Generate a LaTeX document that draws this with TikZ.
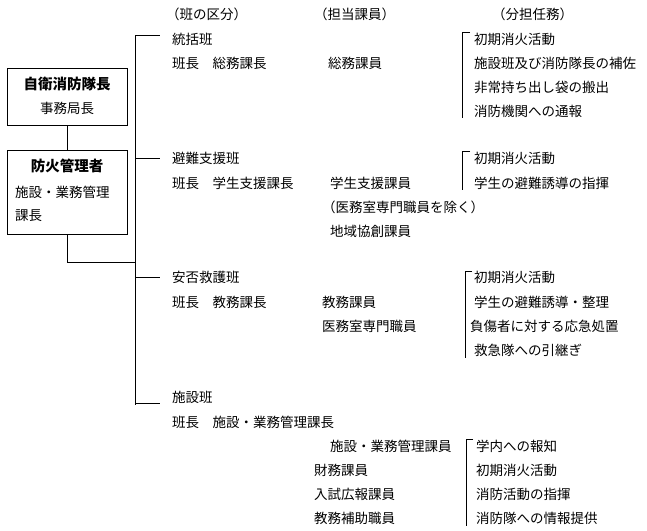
\documentclass[tikz,border=0pt]{standalone}
\usepackage{fontspec}
\setmainfont{Noto Sans CJK JP}
\begin{document}
\begin{tikzpicture}[x=1pt,y=-1pt,
  t/.style={anchor=west,inner sep=0pt,font=\fontsize{13.5}{15}\selectfont},
  tb/.style={anchor=center,inner sep=0pt,font=\fontsize{14.5}{16}\selectfont\bfseries},
  bx/.style={draw,line width=0.7pt,minimum width=120pt,inner sep=0pt},
  ln/.style={line width=0.7pt}]
\useasboundingbox (0,0) rectangle (647,530);
% boxes
\node[bx,minimum height=57pt] (b1) at (67,96.5) {};
\node[tb] at (67,84) {自衛消防隊長};
\node[t,anchor=center] at (67,108) {事務局長};
\node[bx,minimum height=84pt] (b2) at (67,192) {};
\node[tb] at (67,166) {防火管理者};
\node[t] at (15,192) {施設・業務管理};
\node[t] at (15,216) {課長};
\draw[ln] (b1.south) -- (b2.north);
\coordinate (j) at (135,262);
\draw[ln] (b2.south) |- (j);
% trunk
\coordinate (tt) at (135,35);
\coordinate (tb) at (135,405);
\draw[ln] (tt) -- (tb);
\foreach \y/\n in {35/a,158/b,277/c,403/d}{
  \coordinate (s\n) at (135,\y); \coordinate (e\n) at (160,\y);
  \draw[ln] (s\n) -- (e\n);}
% headers
\node[t] at (166,14) {（班の区分）};
\node[t] at (314,14) {（担当課員）};
\node[t] at (492,14) {（分担任務）};
% group 1
\node[t] at (172,39) {統括班};
\node[t] at (172,63) {班長　総務課長};
\node[t] at (328,63) {総務課員};
\foreach \y/\s in {39/初期消火活動,63/施設班及び消防隊長の補佐,87/非常持ち出し袋の搬出,111/消防機関への通報}
  \node[t] at (474,\y) {\s};
\draw[ln] (470,32) -- (462,32) -- (462,118);
% group 2
\node[t] at (172,158) {避難支援班};
\node[t] at (172,183) {班長　学生支援課長};
\node[t] at (330,183) {学生支援課員};
\node[t] at (322,207) {（医務室専門職員を除く）};
\node[t] at (330,231) {地域協創課員};
\node[t] at (474,158) {初期消火活動};
\node[t] at (474,183) {学生の避難誘導の指揮};
\draw[ln] (470,151) -- (462,151) -- (462,190);
% group 3
\node[t] at (172,277) {安否救護班};
\node[t] at (172,302) {班長　教務課長};
\node[t] at (322,302) {教務課員};
\node[t] at (322,326) {医務室専門職員};
\node[t] at (474,277) {初期消火活動};
\node[t] at (474,302) {学生の避難誘導・整理};
\node[t] at (470,326) {負傷者に対する応急処置};
\node[t] at (474,350) {救急隊への引継ぎ};
\draw[ln] (472,271) -- (465,271) -- (465,358);
% group 4
\node[t] at (172,397) {施設班};
\node[t] at (172,422) {班長　施設・業務管理課長};
\node[t] at (330,446) {施設・業務管理課員};
\node[t] at (314,470) {財務課員};
\node[t] at (314,494) {入試広報課員};
\node[t] at (314,518) {教務補助職員};
\foreach \y/\s in {446/学内への報知,470/初期消火活動,494/消防活動の指揮,518/消防隊への情報提供}
  \node[t] at (476,\y) {\s};
\draw[ln] (473,439) -- (466,439) -- (466,526);
\end{tikzpicture}
\end{document}
